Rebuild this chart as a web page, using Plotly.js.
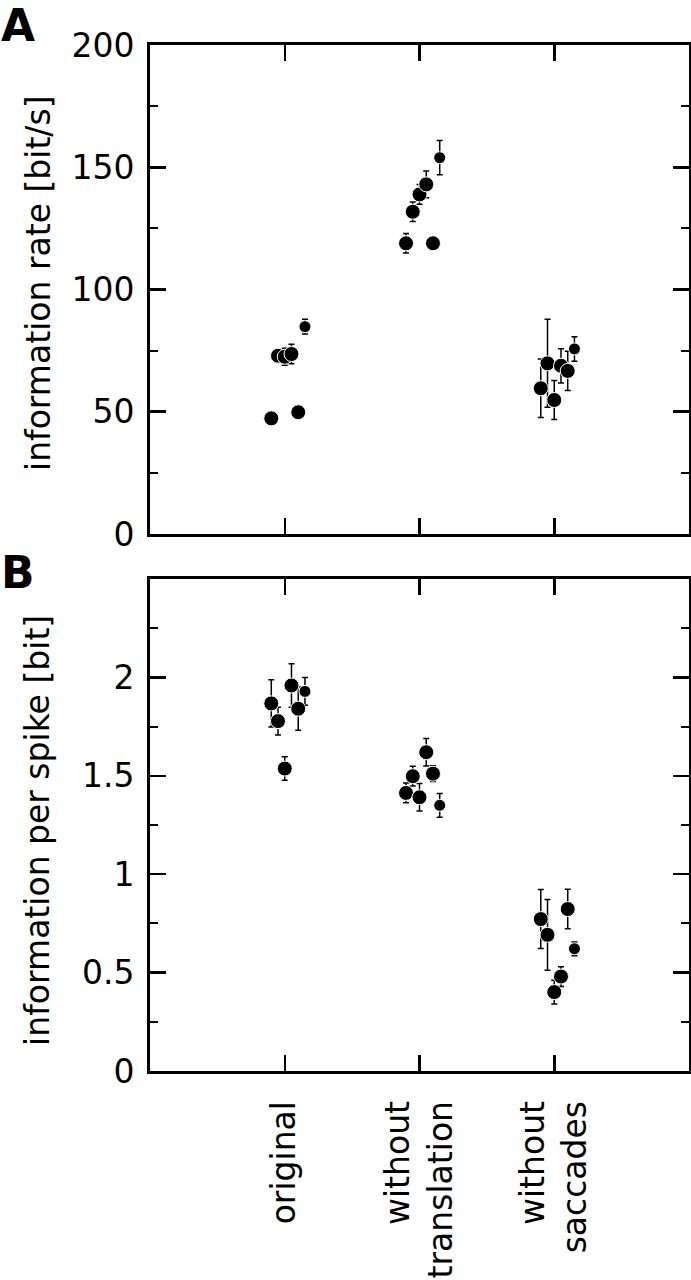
<!DOCTYPE html>
<html>
<head>
<meta charset="utf-8">
<script src="https://cdn.plot.ly/plotly-3.0.1.min.js"></script>
<style>
  html, body { margin: 0; padding: 0; background: #fff; }
  #plot { width: 691px; height: 1280px; }
</style>
</head>
<body>
<div id="plot"></div>
<script>
// categories and small horizontal jitter of the six cells in each group
const categories = ['original', 'without<br>translation', 'without<br>saccades'];
const jitter = [-0.1, -0.05, 0, 0.05, 0.1, 0.15];

// A: information rate [bit/s]
const rateOriginal = [47.3, 72.9, 72.5, 73.6, 49.8, 84.8];
const rateOriginalErr = [2, 2, 3.5, 4, 2, 3];
const rateNoTrans = [118.9, 131.8, 138.9, 143, 118.9, 153.9];
const rateNoTransErr = [4, 4, 4, 5.5, 1.5, 7];
const rateNoSacc = [59.6, 69.8, 54.8, 68.8, 66.7, 75.7];
const rateNoSaccErr = [12, 18, 8, 7, 8, 5];

// B: information per spike [bit]
const spikeOriginal = [1.868, 1.778, 1.537, 1.959, 1.841, 1.929];
const spikeOriginalErr = [0.12, 0.07, 0.06, 0.11, 0.11, 0.07];
const spikeNoTrans = [1.413, 1.498, 1.391, 1.62, 1.511, 1.35];
const spikeNoTransErr = [0.05, 0.05, 0.07, 0.07, 0.04, 0.06];
const spikeNoSacc = [0.772, 0.692, 0.401, 0.48, 0.823, 0.621];
const spikeNoSaccErr = [0.15, 0.18, 0.06, 0.05, 0.1, 0.035];

const FONT = 'DejaVu Sans, Liberation Sans, Arial, sans-serif';
const dotSizes = [15, 15, 15, 15, 15, 12];

function groupTrace(catIndex, values, errs, xa, ya) {
    return {
        x: jitter.map(j => catIndex + 1 + j),
        y: values,
        xaxis: xa,
        yaxis: ya,
        type: 'scatter',
        mode: 'markers',
        marker: { color: '#000', size: dotSizes, opacity: 1 },
        error_y: { type: 'data', array: errs, visible: true, color: '#000', thickness: 1.5, width: 3 },
        showlegend: false,
        hoverinfo: 'x+y'
    };
}

var traces = [
    groupTrace(0, rateOriginal, rateOriginalErr, 'x', 'y'),
    groupTrace(1, rateNoTrans, rateNoTransErr, 'x', 'y'),
    groupTrace(2, rateNoSacc, rateNoSaccErr, 'x', 'y'),
    groupTrace(0, spikeOriginal, spikeOriginalErr, 'x2', 'y2'),
    groupTrace(1, spikeNoTrans, spikeNoTransErr, 'x2', 'y2'),
    groupTrace(2, spikeNoSacc, spikeNoSaccErr, 'x2', 'y2')
];

const frame = {
    showline: true, linecolor: '#000', linewidth: 2.8, mirror: 'ticks',
    ticks: 'inside', ticklen: 16, tickwidth: 2.5, tickcolor: '#000',
    showgrid: false, zeroline: false,
    tickfont: { family: FONT, size: 33, color: '#000' }
};

const catTicks = [1, 2, 3];

var layout = {
    width: 691,
    height: 1280,
    margin: { l: 150, r: 2, t: 45, b: 209 },
    paper_bgcolor: '#fff',
    plot_bgcolor: '#fff',
    font: { family: FONT, color: '#000' },
    xaxis: Object.assign({}, frame, {
        domain: [0, 1], anchor: 'y', range: [0, 4],
        tickvals: catTicks, showticklabels: false
    }),
    yaxis: Object.assign({}, frame, {
        domain: [0.5234, 1], anchor: 'x', range: [0, 200],
        tickvals: [0, 50, 100, 150, 200], ticklabelstandoff: 6,
        minor: { tickvals: [25, 75, 125, 175], ticklen: 8, tickwidth: 2, ticks: 'inside', tickcolor: '#000' }
    }),
    xaxis2: Object.assign({}, frame, {
        domain: [0, 1], anchor: 'y2', range: [0, 4],
        tickvals: catTicks, ticktext: categories, tickangle: -90,
        tickfont: { family: FONT, size: 33, color: '#000' },
        ticklabelstandoff: 14
    }),
    yaxis2: Object.assign({}, frame, {
        domain: [0, 0.4795], anchor: 'x2', range: [0, 2.5],
        tickvals: [0, 0.5, 1, 1.5, 2], ticktext: ['0', '0.5', '1', '1.5', '2'],
        ticklabelstandoff: 6,
        minor: { tickvals: [0.25, 0.75, 1.25, 1.75, 2.25], ticklen: 8, tickwidth: 2, ticks: 'inside', tickcolor: '#000' }
    }),
    annotations: [
        { text: 'information rate [bit/s]', textangle: -90, xref: 'paper', yref: 'paper',
          x: -0.2078, y: 0.768, xanchor: 'center', yanchor: 'middle', showarrow: false,
          font: { family: FONT, size: 33, color: '#000' } },
        { text: 'information per spike [bit]', textangle: -90, xref: 'paper', yref: 'paper',
          x: -0.2078, y: 0.235, xanchor: 'center', yanchor: 'middle', showarrow: false,
          font: { family: FONT, size: 33, color: '#000' } },
        { text: '<b>A</b>', xref: 'paper', yref: 'paper', x: -0.28, y: 1.046,
          xanchor: 'left', yanchor: 'top', showarrow: false,
          font: { family: FONT, size: 44, color: '#000' } },
        { text: '<b>B</b>', xref: 'paper', yref: 'paper', x: -0.28, y: 0.513,
          xanchor: 'left', yanchor: 'top', showarrow: false,
          font: { family: FONT, size: 44, color: '#000' } }
    ]
};

Plotly.newPlot('plot', traces, layout, { displayModeBar: false, staticPlot: true });
</script>
</body>
</html>
